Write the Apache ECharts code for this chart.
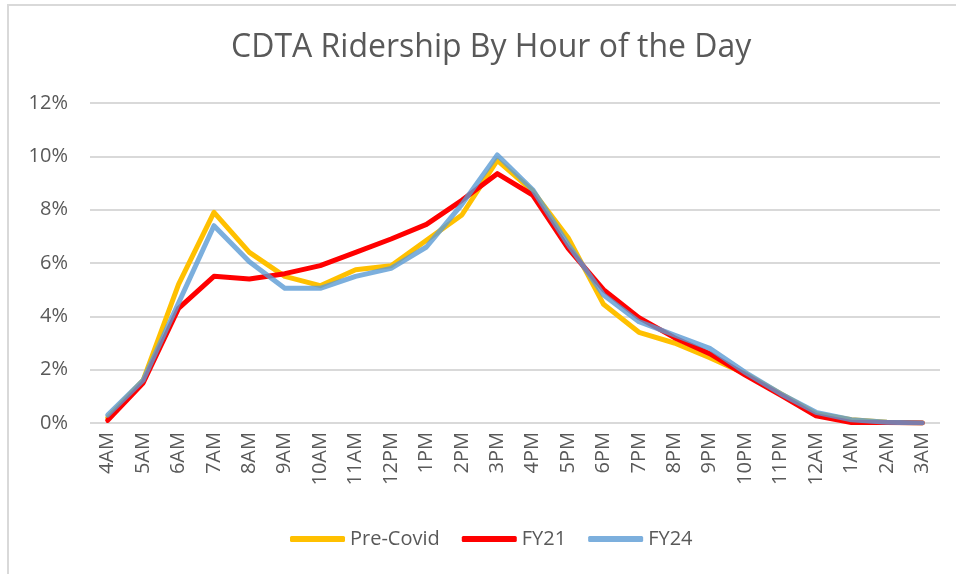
<!DOCTYPE html>
<html>
<head>
<meta charset="utf-8">
<title>CDTA Ridership By Hour of the Day</title>
<script src="https://cdn.jsdelivr.net/npm/echarts@6/dist/echarts.min.js"></script>
<style>
  html, body { margin: 0; padding: 0; background: #fff; }
  #chart { width: 956px; height: 574px; }
</style>
</head>
<body>
<div id="chart"></div>
<script>
// hours of the day
const hours = [
  "4AM", "5AM", "6AM", "7AM", "8AM", "9AM", "10AM", "11AM",
  "12PM", "1PM", "2PM", "3PM", "4PM", "5PM", "6PM", "7PM",
  "8PM", "9PM", "10PM", "11PM", "12AM", "1AM", "2AM", "3AM"
];
// share of daily ridership, %
const preCovid = [0.2, 1.6, 5.2, 7.9, 6.4, 5.5, 5.15, 5.75, 5.9, 6.85, 7.8, 9.85,
  8.7, 6.95, 4.45, 3.4, 3.0, 2.45, 1.85, 1.1, 0.35, 0.12, 0.03, 0.0];
const fy21 = [0.1, 1.5, 4.3, 5.5, 5.4, 5.6, 5.9, 6.4, 6.9, 7.45, 8.35, 9.35,
  8.55, 6.55, 5.0, 3.95, 3.2, 2.6, 1.8, 1.05, 0.27, 0.02, 0.02, 0.0];
const fy24 = [0.3, 1.6, 4.5, 7.4, 6.05, 5.05, 5.05, 5.5, 5.8, 6.6, 8.2, 10.05,
  8.75, 6.7, 4.8, 3.8, 3.3, 2.8, 1.9, 1.1, 0.4, 0.12, 0.03, 0.0];

const seriesNames = ["Pre-Covid", "FY21", "FY24"];
const seriesColors = ["#FFC000", "#FF0000", "rgba(91,155,213,0.8)"];

const font = "'Open Sans', 'Noto Sans', sans-serif";
const textColor = "#595959";

const chart = echarts.init(document.getElementById("chart"));

chart.setOption({
  animation: false,
  color: seriesColors,
  textStyle: { fontFamily: font },
  title: {
    text: "CDTA Ridership By Hour of the Day",
    left: 226,
    top: 27,
    textStyle: {
      fontFamily: font,
      fontSize: 32,
      fontWeight: "normal",
      color: textColor
    }
  },
  graphic: [
    {
      // frame of the chart area (left and top edges)
      type: "polyline",
      silent: true,
      shape: { points: [[8, 574], [8, 5], [956, 5]] },
      style: { stroke: "#d9d9d9", lineWidth: 2, fill: null }
    }
  ],
  grid: {
    left: 90,
    right: 16,
    top: 103,
    bottom: 151
  },
  legend: {
    left: 285,
    top: 524,
    icon: "roundRect",
    itemWidth: 55,
    itemHeight: 6,
    itemGap: 22,
    data: seriesNames,
    textStyle: {
      fontFamily: font,
      fontSize: 20,
      color: textColor
    }
  },
  xAxis: {
    type: "category",
    data: hours,
    axisLine: { show: false },
    axisTick: { show: false },
    axisLabel: {
      rotate: 90,
      margin: 9,
      interval: 0,
      fontFamily: font,
      fontSize: 20,
      color: textColor
    }
  },
  yAxis: {
    type: "value",
    min: 0,
    max: 12,
    interval: 2,
    axisLine: { show: false },
    axisTick: { show: false },
    axisLabel: {
      formatter: "{value}%",
      margin: 22,
      fontFamily: font,
      fontSize: 20,
      color: textColor
    },
    splitLine: {
      lineStyle: { color: "#d9d9d9", width: 2 }
    }
  },
  series: [preCovid, fy21, fy24].map((values, i) => {
    return {
      name: seriesNames[i],
      type: "line",
      data: values,
      symbol: "none",
      lineStyle: { width: 5, color: seriesColors[i], cap: "round", join: "round" },
      itemStyle: { color: seriesColors[i] }
    };
  })
});
</script>
</body>
</html>
